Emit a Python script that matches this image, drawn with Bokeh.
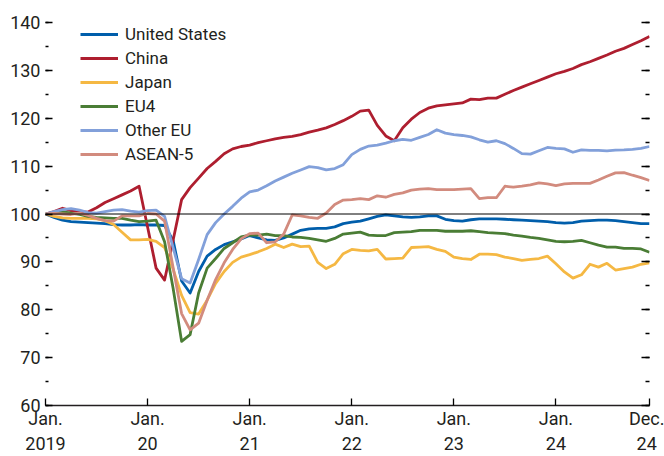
from bokeh.plotting import figure
from bokeh.models import (Span, LinearAxis, FixedTicker, SingleIntervalTicker,
                          Legend, LegendItem, Range1d)
from bokeh.embed import file_html
from bokeh.resources import INLINE

FONT = "Roboto"

months = list(range(72))
x_ticks = [0, 12, 24, 36, 48, 60, 71]
x_tick_labels = ["Jan.\n2019", "Jan.\n20", "Jan.\n21", "Jan.\n22", "Jan.\n23", "Jan.\n24", "Dec.\n24"]

united_states = [100, 99.3, 98.7, 98.4, 98.3, 98.2, 98.1, 98.0, 97.8, 97.7, 97.7, 97.8,
                 97.7, 97.7, 97.6, 94.5, 86.0, 83.5, 88.0, 91.2, 92.6, 93.6, 94.2, 94.8,
                 95.5, 95.0, 94.6, 94.5, 95.0, 95.8, 96.6, 96.9, 97.0, 97.0, 97.3, 98.0,
                 98.3, 98.5, 99.0, 99.5, 99.8, 99.6, 99.4, 99.3, 99.4, 99.6, 99.6, 98.9,
                 98.6, 98.5, 98.8, 99.0, 99.0, 99.0, 98.9, 98.8, 98.7, 98.6, 98.5, 98.4,
                 98.2, 98.1, 98.2, 98.5, 98.6, 98.7, 98.7, 98.6, 98.4, 98.2, 98.0, 98.0]

china = [100, 100.5, 101.2, 100.7, 100.5, 100.4, 101.3, 102.4, 103.2, 104.0, 104.8, 105.8,
         97.3, 88.7, 86.2, 94.5, 103.0, 105.5, 107.5, 109.5, 111.0, 112.6, 113.6, 114.1,
         114.4, 114.9, 115.3, 115.7, 116.0, 116.2, 116.6, 117.1, 117.5, 118.0, 118.7, 119.5,
         120.4, 121.5, 121.7, 118.5, 116.3, 115.3, 118.0, 119.8, 121.2, 122.1, 122.6, 122.8,
         123.0, 123.2, 124.0, 123.9, 124.2, 124.2, 125.0, 125.8, 126.5, 127.2, 127.9, 128.6,
         129.3, 129.8, 130.4, 131.2, 131.8, 132.5, 133.2, 134.0, 134.6, 135.4, 136.2, 137.1]

japan = [100, 99.5, 99.2, 99.1, 99.1, 99.1, 99.0, 98.6, 97.8, 96.2, 94.6, 94.6,
         94.7, 94.3, 93.0, 88.5, 83.0, 79.4, 79.1, 82.0, 85.5, 88.0, 89.9, 91.0,
         91.5, 92.1, 92.8, 93.7, 93.0, 93.7, 93.2, 93.3, 89.9, 88.6, 89.5, 91.7,
         92.6, 92.4, 92.3, 92.6, 90.6, 90.7, 90.8, 93.0, 93.1, 93.2, 92.6, 92.2,
         91.0, 90.7, 90.5, 91.6, 91.6, 91.5, 91.0, 90.7, 90.3, 90.5, 90.7, 91.2,
         89.6, 87.9, 86.6, 87.3, 89.5, 88.9, 89.7, 88.3, 88.6, 88.9, 89.5, 89.8]

eu4 = [100, 100.3, 100.5, 100.2, 99.9, 99.5, 99.3, 99.2, 99.1, 99.1, 98.7, 98.4,
       98.5, 98.7, 94.2, 84.5, 73.4, 74.8, 83.5, 88.7, 90.7, 92.8, 94.0, 95.2,
       95.6, 95.6, 95.8, 95.5, 95.5, 95.2, 95.1, 94.9, 94.6, 94.3, 94.9, 95.8,
       96.0, 96.2, 95.6, 95.5, 95.5, 96.1, 96.2, 96.3, 96.6, 96.6, 96.6, 96.4,
       96.4, 96.4, 96.5, 96.3, 96.1, 96.0, 95.9, 95.6, 95.4, 95.1, 94.9, 94.6,
       94.3, 94.2, 94.3, 94.5, 94.0, 93.5, 93.1, 93.1, 92.8, 92.8, 92.7, 92.0]

other_eu = [100, 100.5, 100.9, 101.1, 100.8, 100.3, 100.2, 100.5, 100.8, 100.9, 100.6, 100.4,
            100.7, 100.8, 99.5, 93.0, 86.5, 85.6, 90.5, 95.7, 98.2, 100.0, 101.6, 103.3,
            104.6, 105.0, 105.9, 106.9, 107.7, 108.5, 109.2, 109.9, 109.7, 109.2, 109.5, 110.3,
            112.4, 113.5, 114.2, 114.4, 114.8, 115.3, 115.6, 115.4, 116.0, 116.6, 117.6, 116.9,
            116.6, 116.4, 116.1, 115.5, 115.0, 115.3, 114.7, 113.7, 112.6, 112.5, 113.2, 113.9,
            113.7, 113.6, 112.9, 113.4, 113.3, 113.3, 113.2, 113.35, 113.4, 113.5, 113.7, 114.1]

asean5 = [100, 100.1, 100.0, 99.9, 100.2, 99.7, 99.1, 98.6, 98.5, 99.6, 99.6, 99.6,
          100.1, 100.0, 98.5, 88.8, 79.2, 75.8, 77.2, 82.0, 86.3, 89.8, 92.6, 94.8,
          95.9, 96.0, 94.0, 94.2, 95.8, 99.8, 99.6, 99.3, 99.1, 100.2, 102.0, 102.9,
          103.0, 103.2, 103.0, 103.8, 103.5, 104.1, 104.4, 105.0, 105.2, 105.3, 105.1, 105.1,
          105.1, 105.2, 105.3, 103.2, 103.4, 103.4, 105.8, 105.6, 105.8, 106.1, 106.5, 106.3,
          105.95, 106.3, 106.4, 106.4, 106.4, 107.1, 107.9, 108.6, 108.65, 108.1, 107.6, 107.0]

series_names = ["United States", "China", "Japan", "EU4", "Other EU", "ASEAN-5"]
series_values = [united_states, china, japan, eu4, other_eu, asean5]
series_colors = ["#005EAB", "#AE1E2F", "#F5B843", "#4A7D35", "#82A0DA", "#D28B7E"]

p = figure(width=664, height=456, output_backend="svg", toolbar_location=None,
           x_range=Range1d(0, 71), y_range=Range1d(60, 140),
           min_border_left=45, min_border_right=15, min_border_top=22, min_border_bottom=50)
p.xgrid.visible = False
p.ygrid.visible = False
p.outline_line_color = None
p.background_fill_color = "white"
p.border_fill_color = "white"

TEXT_COLOR = "#231F20"

# left axis
yax = p.yaxis[0]
yax.ticker = SingleIntervalTicker(interval=10, num_minor_ticks=2)
yax.axis_line_color = None
yax.major_tick_in = 7
yax.major_tick_out = 0
yax.minor_tick_in = 3
yax.minor_tick_out = 0
yax.major_tick_line_width = 1.3
yax.minor_tick_line_width = 1.3
yax.major_label_standoff = 5
yax.major_label_text_font = FONT
yax.major_label_text_font_size = "18px"
yax.major_label_text_color = TEXT_COLOR

# right axis (ticks only)
rax = LinearAxis(ticker=SingleIntervalTicker(interval=10, num_minor_ticks=2))
rax.axis_line_color = None
rax.major_tick_in = 8
rax.major_tick_out = 0
rax.minor_tick_in = 4
rax.minor_tick_out = 0
rax.major_tick_line_width = 1.3
rax.minor_tick_line_width = 1.3
rax.major_label_text_font_size = "0px"
rax.major_label_standoff = 0
rax.major_label_overrides = {v: "" for v in range(60, 141, 10)}
p.add_layout(rax, "right")

# bottom axis
xax = p.xaxis[0]
xax.ticker = FixedTicker(ticks=x_ticks, minor_ticks=[])
xax.major_label_overrides = dict(zip(x_ticks, x_tick_labels))
xax.axis_line_color = TEXT_COLOR
xax.axis_line_width = 1.3
xax.major_tick_in = 7
xax.major_tick_out = 0
xax.major_tick_line_width = 1.3
xax.minor_tick_in = 0
xax.minor_tick_out = 0
xax.major_label_standoff = 2
xax.major_label_text_font = FONT
xax.major_label_text_font_size = "18px"
xax.major_label_text_color = TEXT_COLOR

p.add_layout(Span(location=100, dimension="width", line_color="black", line_width=1))

items = []
for name, vals, col in zip(series_names, series_values, series_colors):
    r = p.line(months, vals, line_color=col, line_width=2.8, line_join="round")
    items.append(LegendItem(label=name, renderers=[r]))

legend = Legend(items=items, location=(35, 240))
legend.label_text_font = FONT
legend.label_text_font_size = "17px"
legend.label_text_color = TEXT_COLOR
legend.glyph_width = 38
legend.glyph_height = 22
legend.label_height = 22
legend.label_standoff = 7
legend.spacing = 2
legend.padding = 0
legend.margin = 0
legend.border_line_color = None
legend.background_fill_alpha = 0
p.add_layout(legend)

open("out.html", "w").write(file_html(p, INLINE))
